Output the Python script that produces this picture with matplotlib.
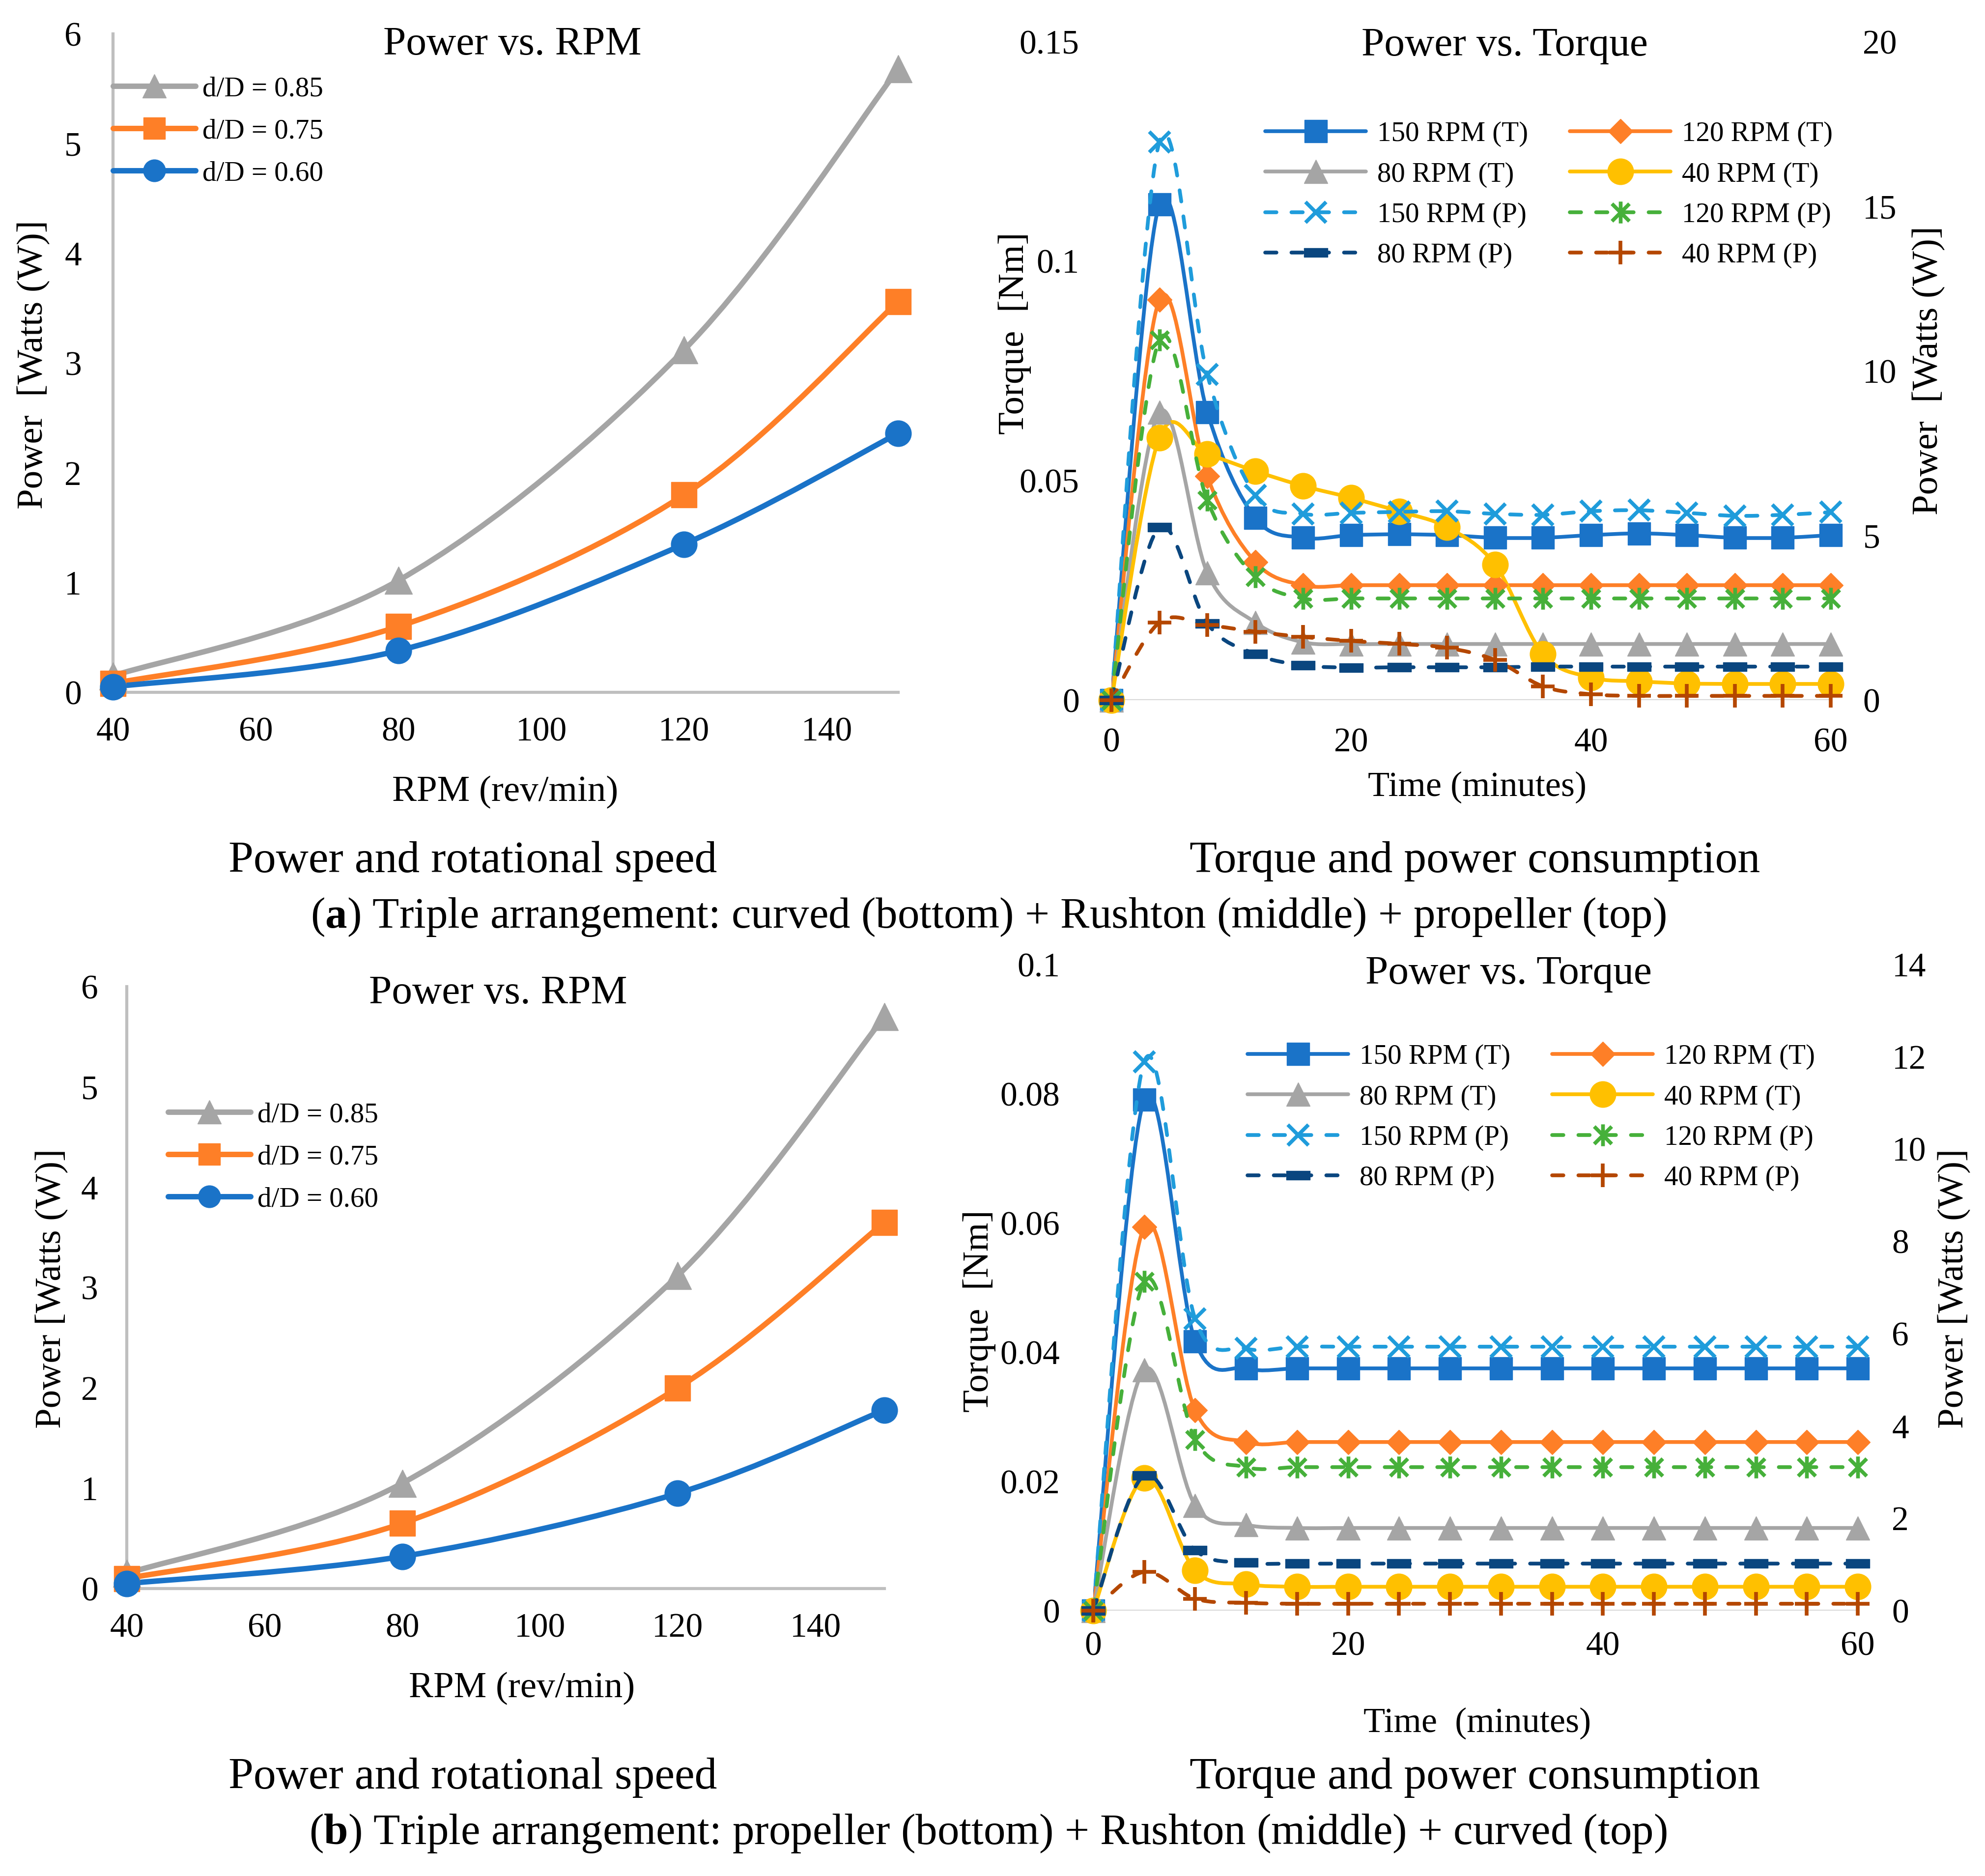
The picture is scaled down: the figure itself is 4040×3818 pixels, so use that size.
import numpy as np
import matplotlib
matplotlib.use('Agg')
import matplotlib.pyplot as plt
from matplotlib.path import Path
from matplotlib.patches import PathPatch
from matplotlib.lines import Line2D
from matplotlib.ticker import FuncFormatter

plt.rcParams['font.family'] = ['Liberation Serif', 'DejaVu Serif']
plt.rcParams['mathtext.fontset'] = 'custom'
plt.rcParams['mathtext.rm'] = 'Liberation Serif'
plt.rcParams['mathtext.bf'] = 'Liberation Serif:bold'

# ---- data: power vs rpm ----
rpm = [40, 80, 120, 150]
a_p085 = [0.15, 1.02, 3.12, 5.68]
a_p075 = [0.08, 0.60, 1.80, 3.56]
a_p060 = [0.05, 0.38, 1.35, 2.36]
b_p085 = [0.15, 1.05, 3.12, 5.70]
b_p075 = [0.10, 0.65, 2.00, 3.65]
b_p060 = [0.05, 0.32, 0.95, 1.78]
dd_labels = ['d/D = 0.85', 'd/D = 0.75', 'd/D = 0.60']

# ---- data: torque / power vs time ----
time = [0, 4, 8, 12, 16, 20, 24, 28, 32, 36, 40, 44, 48, 52, 56, 60]
a_tq150 = [0, 0.113, 0.0656, 0.0415, 0.037, 0.0376, 0.0378, 0.0376, 0.037, 0.037, 0.0376, 0.038, 0.0376, 0.037, 0.037, 0.0376]
a_tq120 = [0, 0.0912, 0.051, 0.0315, 0.0262, 0.0262, 0.0262, 0.0262, 0.0262, 0.0262, 0.0262, 0.0262, 0.0262, 0.0262, 0.0262, 0.0262]
a_tq80 = [0, 0.0656, 0.029, 0.0177, 0.0132, 0.0128, 0.0128, 0.0128, 0.0128, 0.0128, 0.0128, 0.0128, 0.0128, 0.0128, 0.0128, 0.0128]
a_tq40 = [0, 0.0598, 0.0561, 0.0522, 0.0488, 0.0461, 0.043, 0.0394, 0.0309, 0.0105, 0.0052, 0.0043, 0.0038, 0.0037, 0.0037, 0.0037]
a_pw150 = [0, 16.96, 9.89, 6.23, 5.66, 5.69, 5.72, 5.74, 5.66, 5.63, 5.74, 5.77, 5.69, 5.6, 5.63, 5.71]
a_pw120 = [0, 10.94, 6.07, 3.74, 3.09, 3.09, 3.09, 3.09, 3.09, 3.09, 3.09, 3.09, 3.09, 3.09, 3.09, 3.09]
a_pw80 = [0, 5.25, 2.33, 1.40, 1.06, 0.99, 1.0, 1.0, 1.0, 1.02, 1.02, 1.02, 1.02, 1.02, 1.02, 1.02]
a_pw40 = [0, 2.36, 2.28, 2.08, 1.92, 1.80, 1.71, 1.59, 1.22, 0.42, 0.18, 0.13, 0.13, 0.13, 0.13, 0.13]

b_tq150 = [0, 0.0791, 0.0417, 0.0375, 0.0375, 0.0375, 0.0375, 0.0375, 0.0375, 0.0375, 0.0375, 0.0375, 0.0375, 0.0375, 0.0375, 0.0375]
b_tq120 = [0, 0.0594, 0.031, 0.0261, 0.0261, 0.0261, 0.0261, 0.0261, 0.0261, 0.0261, 0.0261, 0.0261, 0.0261, 0.0261, 0.0261, 0.0261]
b_tq80 = [0, 0.0373, 0.0163, 0.0133, 0.0128, 0.0128, 0.0128, 0.0128, 0.0128, 0.0128, 0.0128, 0.0128, 0.0128, 0.0128, 0.0128, 0.0128]
b_tq40 = [0, 0.0205, 0.0062, 0.0041, 0.0037, 0.0037, 0.0037, 0.0037, 0.0037, 0.0037, 0.0037, 0.0037, 0.0037, 0.0037, 0.0037, 0.0037]
b_pw150 = [0, 11.89, 6.32, 5.68, 5.72, 5.72, 5.72, 5.72, 5.72, 5.72, 5.72, 5.72, 5.72, 5.72, 5.72, 5.72]
b_pw120 = [0, 7.13, 3.71, 3.11, 3.11, 3.11, 3.11, 3.11, 3.11, 3.11, 3.11, 3.11, 3.11, 3.11, 3.11, 3.11]
b_pw80 = [0, 2.93, 1.31, 1.04, 1.02, 1.02, 1.02, 1.02, 1.02, 1.02, 1.02, 1.02, 1.02, 1.02, 1.02, 1.02]
b_pw40 = [0, 0.84, 0.26, 0.17, 0.15, 0.15, 0.15, 0.15, 0.15, 0.15, 0.15, 0.15, 0.15, 0.15, 0.15, 0.15]

t_labels = ['150 RPM (T)', '120 RPM (T)', '80 RPM (T)', '40 RPM (T)']
p_labels = ['150 RPM (P)', '120 RPM (P)', '80 RPM (P)', '40 RPM (P)']

# colours
BLUE = '#1a73c8'
ORANGE = '#fe7f27'
GRAY = '#a5a5a5'
GOLD = '#ffc000'
LBLUE = '#1f9cdb'
GREEN = '#46b03a'
DBLUE = '#0a467f'
BROWN = '#b44700'

star = Path([(-1, -1), (1, 1), (-1, 1), (1, -1), (0, -1.25), (0, 1.25)],
            [Path.MOVETO, Path.LINETO] * 3)
dash = Path([(-1, -0.38), (1, -0.38), (1, 0.38), (-1, 0.38), (-1, -0.38)],
            [Path.MOVETO, Path.LINETO, Path.LINETO, Path.LINETO, Path.CLOSEPOLY])
DASHED = (0, (3, 4))


def smooth_path(xs, ys):
    # excel-like smoothed line: cubic bezier segments through the points
    n = len(xs)
    verts = [(xs[0], ys[0])]
    codes = [Path.MOVETO]
    for i in range(n - 1):
        xa, ya = (xs[i - 1], ys[i - 1]) if i > 0 else (xs[i], ys[i])
        xb, yb = (xs[i + 2], ys[i + 2]) if i + 2 < n else (xs[i + 1], ys[i + 1])
        c1 = (xs[i] + (xs[i + 1] - xa) / 6.0, ys[i] + (ys[i + 1] - ya) / 6.0)
        c2 = (xs[i + 1] - (xb - xs[i]) / 6.0, ys[i + 1] - (yb - ys[i]) / 6.0)
        verts += [c1, c2, (xs[i + 1], ys[i + 1])]
        codes += [Path.CURVE4] * 3
    return Path(verts, codes)


def series(ax, xs, ys, color, ls, lw, marker, ms, mew=1.0, filled=True):
    ax.add_patch(PathPatch(smooth_path(xs, ys), fill=False, edgecolor=color, lw=lw,
                           linestyle=ls, capstyle='round', joinstyle='round'))
    fc = color if filled else 'none'
    ax.plot(xs, ys, linestyle='none', marker=marker, ms=ms, mfc=fc, mec=color,
            mew=mew, clip_on=False, zorder=3)
    return Line2D([], [], color=color, lw=lw, linestyle=ls, marker=marker, ms=ms,
                  mfc=fc, mec=color, mew=mew, dash_capstyle='round',
                  solid_capstyle='round')


fmt = FuncFormatter(lambda v, p: '{:g}'.format(round(v, 4)))

fig = plt.figure(figsize=(40.4, 38.18), dpi=100)
W, H = 4040.0, 3818.0


def fx(px):
    return px / W


def fy(py):
    return 1 - py / H


def rpm_panel(rect, p085, p075, p060, ypad, leg_xy):
    ax = fig.add_axes(rect)
    h1 = series(ax, rpm, p085, GRAY, '-', 8, '^', 40)
    h2 = series(ax, rpm, p075, ORANGE, '-', 8, 's', 37)
    h3 = series(ax, rpm, p060, BLUE, '-', 8, 'o', 38)
    ax.set_xlim(40, 150)
    ax.set_ylim(0, 6)
    ax.set_xticks([40, 60, 80, 100, 120, 140])
    ax.set_yticks([0, 1, 2, 3, 4, 5, 6])
    for s in ['top', 'right']:
        ax.spines[s].set_visible(False)
    for s in ['left', 'bottom']:
        ax.spines[s].set_color('#bfbfbf')
        ax.spines[s].set_linewidth(4.5)
    ax.tick_params(axis='x', length=0, pad=36, labelsize=50)
    ax.tick_params(axis='y', length=0, pad=ypad, labelsize=50)
    fig.legend([h1, h2, h3], dd_labels, loc='upper left',
               bbox_to_anchor=(fx(leg_xy[0]), fy(leg_xy[1])), frameon=False,
               fontsize=41, borderpad=0, borderaxespad=0, handlelength=2.95,
               handletextpad=0.25, labelspacing=0.6, markerscale=0.85)
    return ax


def torque_panel(rect, tq, pw, tqmax, tqstep, pwmax, pwstep, pads, leg_xy):
    ax = fig.add_axes(rect)
    ax2 = ax.twinx()
    hT = [series(ax, time, tq[0], BLUE, '-', 5.5, 's', 33),
          series(ax, time, tq[1], ORANGE, '-', 5.5, 'D', 25),
          series(ax, time, tq[2], GRAY, '-', 5.5, '^', 34),
          series(ax, time, tq[3], GOLD, '-', 5.5, 'o', 38)]
    hP = [series(ax2, time, pw[0], LBLUE, DASHED, 5.5, 'x', 30, mew=5.5),
          series(ax2, time, pw[1], GREEN, DASHED, 5.5, star, 32, mew=5.5),
          series(ax2, time, pw[2], DBLUE, DASHED, 5.5, dash, 34),
          series(ax2, time, pw[3], BROWN, DASHED, 5.5, '+', 34, mew=5.5)]
    ax.axhline(0, color='#d9d9d9', lw=3, zorder=0)
    ax.set_xlim(0, 60)
    ax.set_xticks([0, 20, 40, 60])
    ax.set_ylim(0, tqmax)
    ax.set_yticks(np.arange(0, tqmax + tqstep / 2, tqstep))
    ax2.set_ylim(0, pwmax)
    ax2.set_yticks(np.arange(0, pwmax + pwstep / 2, pwstep))
    ax.yaxis.set_major_formatter(fmt)
    ax2.yaxis.set_major_formatter(fmt)
    for a in (ax, ax2):
        for s in a.spines.values():
            s.set_visible(False)
    ax.tick_params(axis='x', length=0, pad=pads[0], labelsize=50)
    ax.tick_params(axis='y', length=0, pad=pads[1], labelsize=50)
    ax2.tick_params(axis='y', length=0, pad=pads[2], labelsize=50)
    handles = [hT[0], hT[2], hP[0], hP[2], hT[1], hT[3], hP[1], hP[3]]
    labels = [t_labels[0], t_labels[2], p_labels[0], p_labels[2],
              t_labels[1], t_labels[3], p_labels[1], p_labels[3]]
    fig.legend(handles, labels, loc='upper left', ncol=2,
               bbox_to_anchor=(fx(leg_xy[0]), fy(leg_xy[1])), frameon=False,
               fontsize=41, borderpad=0, borderaxespad=0, handlelength=3.6,
               handletextpad=0.4, labelspacing=0.53, columnspacing=1.5,
               markerscale=1.0)
    return ax


# (a) row
rpm_panel([fx(230), fy(1409), fx(1828 - 230), (1409 - 69) / H],
          a_p085, a_p075, a_p060, 46, (230, 155))
torque_panel([fx(2262), fy(1425), fx(3726 - 2262), (1425 - 85) / H],
             [a_tq150, a_tq120, a_tq80, a_tq40], [a_pw150, a_pw120, a_pw80, a_pw40],
             0.15, 0.05, 20, 5, (40, 47, 47), (2575, 247))

# (b) row
rpm_panel([fx(258), fy(3233), fx(1800 - 258), (3233 - 2008) / H],
          b_p085, b_p075, b_p060, 42, (342, 2243))
torque_panel([fx(2225), fy(3278), fx(3781 - 2225), (3278 - 1963) / H],
             [b_tq150, b_tq120, b_tq80, b_tq40], [b_pw150, b_pw120, b_pw80, b_pw40],
             0.1, 0.02, 14, 2, (30, 49, 50), (2539, 2125))

# titles
fig.text(fx(1043), fy(91), 'Power vs. RPM', ha='center', va='center', fontsize=60)
fig.text(fx(3062), fy(93), 'Power vs. Torque', ha='center', va='center', fontsize=60)
fig.text(fx(1014), fy(2022), 'Power vs. RPM', ha='center', va='center', fontsize=60)
fig.text(fx(3070), fy(1982), 'Power vs. Torque', ha='center', va='center', fontsize=60)

# axis labels
fig.text(fx(68), fy(742), 'Power  [Watts (W)]', rotation=90, ha='center', va='center', fontsize=54)
fig.text(fx(1028), fy(1612), 'RPM (rev/min)', ha='center', va='center', fontsize=54)
fig.text(fx(2065), fy(678), 'Torque  [Nm]', rotation=90, ha='center', va='center', fontsize=54)
fig.text(fx(3925), fy(754), 'Power  [Watts (W)]', rotation=90, ha='center', va='center', fontsize=54)
fig.text(fx(3007), fy(1602), 'Time (minutes)', ha='center', va='center', fontsize=52)

fig.text(fx(105), fy(2622), 'Power [Watts (W)]', rotation=90, ha='center', va='center', fontsize=54)
fig.text(fx(1062), fy(3436), 'RPM (rev/min)', ha='center', va='center', fontsize=54)
fig.text(fx(1993), fy(2668), 'Torque  [Nm]', rotation=90, ha='center', va='center', fontsize=54)
fig.text(fx(3977), fy(2622), 'Power [Watts (W)]', rotation=90, ha='center', va='center', fontsize=54)
fig.text(fx(3007), fy(3507), 'Time  (minutes)', ha='center', va='center', fontsize=52)

# captions
fig.text(fx(962), fy(1775), 'Power and rotational speed', ha='center', va='baseline', fontsize=66)
fig.text(fx(3002), fy(1775), 'Torque and power consumption', ha='center', va='baseline', fontsize=66)
fig.text(fx(2011), fy(1888),
         r'($\mathbf{a}$) Triple arrangement: curved (bottom) + Rushton (middle) + propeller (top)',
         ha='center', va='baseline', fontsize=64)
fig.text(fx(962), fy(3640), 'Power and rotational speed', ha='center', va='baseline', fontsize=66)
fig.text(fx(3002), fy(3640), 'Torque and power consumption', ha='center', va='baseline', fontsize=66)
fig.text(fx(2011), fy(3753),
         r'($\mathbf{b}$) Triple arrangement: propeller (bottom) + Rushton (middle) + curved (top)',
         ha='center', va='baseline', fontsize=64)

fig.savefig('out.png', dpi=100, facecolor='white')
